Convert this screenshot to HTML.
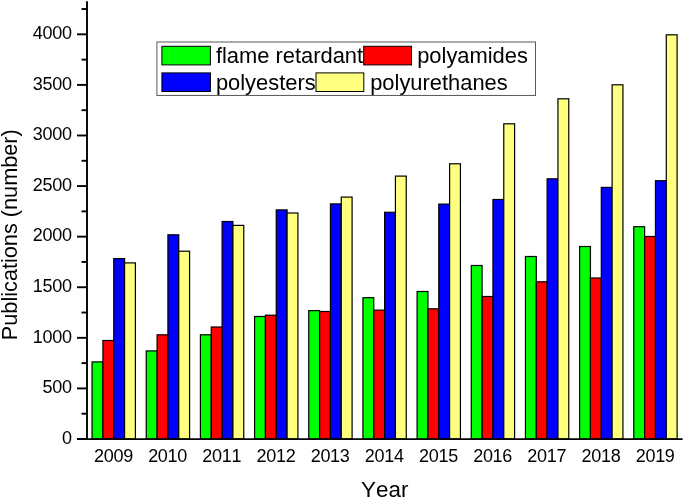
<!DOCTYPE html>
<html><head><meta charset="utf-8"><title>Publications per year</title>
<style>html,body{margin:0;padding:0;background:#fff}body{width:685px;height:499px;overflow:hidden}</style></head>
<body>
<svg width="685" height="499" viewBox="0 0 685 499" style="display:block">
<rect width="685" height="499" fill="#fff"/>
<g stroke="#000" stroke-width="1.2">
<rect x="92.08" y="361.90" width="10.83" height="77.10" fill="#00ff00"/>
<rect x="102.92" y="340.50" width="10.83" height="98.50" fill="#ff0000"/>
<rect x="113.75" y="258.60" width="10.83" height="180.40" fill="#0000ff"/>
<rect x="124.58" y="262.90" width="10.83" height="176.10" fill="#ffff80"/>
<rect x="146.25" y="350.90" width="10.83" height="88.10" fill="#00ff00"/>
<rect x="157.09" y="334.80" width="10.83" height="104.20" fill="#ff0000"/>
<rect x="167.92" y="234.80" width="10.83" height="204.20" fill="#0000ff"/>
<rect x="178.75" y="251.20" width="10.83" height="187.80" fill="#ffff80"/>
<rect x="200.42" y="334.80" width="10.83" height="104.20" fill="#00ff00"/>
<rect x="211.26" y="327.00" width="10.83" height="112.00" fill="#ff0000"/>
<rect x="222.09" y="221.50" width="10.83" height="217.50" fill="#0000ff"/>
<rect x="232.92" y="225.40" width="10.83" height="213.60" fill="#ffff80"/>
<rect x="254.59" y="316.50" width="10.83" height="122.50" fill="#00ff00"/>
<rect x="265.43" y="315.20" width="10.83" height="123.80" fill="#ff0000"/>
<rect x="276.26" y="209.90" width="10.83" height="229.10" fill="#0000ff"/>
<rect x="287.09" y="213.00" width="10.83" height="226.00" fill="#ffff80"/>
<rect x="308.76" y="310.60" width="10.83" height="128.40" fill="#00ff00"/>
<rect x="319.60" y="311.50" width="10.83" height="127.50" fill="#ff0000"/>
<rect x="330.43" y="203.90" width="10.83" height="235.10" fill="#0000ff"/>
<rect x="341.26" y="197.10" width="10.83" height="241.90" fill="#ffff80"/>
<rect x="362.93" y="297.70" width="10.83" height="141.30" fill="#00ff00"/>
<rect x="373.77" y="310.10" width="10.83" height="128.90" fill="#ff0000"/>
<rect x="384.60" y="212.30" width="10.83" height="226.70" fill="#0000ff"/>
<rect x="395.43" y="176.10" width="10.83" height="262.90" fill="#ffff80"/>
<rect x="417.10" y="291.50" width="10.83" height="147.50" fill="#00ff00"/>
<rect x="427.94" y="308.80" width="10.83" height="130.20" fill="#ff0000"/>
<rect x="438.77" y="204.10" width="10.83" height="234.90" fill="#0000ff"/>
<rect x="449.60" y="163.80" width="10.83" height="275.20" fill="#ffff80"/>
<rect x="471.27" y="265.50" width="10.83" height="173.50" fill="#00ff00"/>
<rect x="482.11" y="296.50" width="10.83" height="142.50" fill="#ff0000"/>
<rect x="492.94" y="199.50" width="10.83" height="239.50" fill="#0000ff"/>
<rect x="503.77" y="123.80" width="10.83" height="315.20" fill="#ffff80"/>
<rect x="525.44" y="256.50" width="10.83" height="182.50" fill="#00ff00"/>
<rect x="536.28" y="281.80" width="10.83" height="157.20" fill="#ff0000"/>
<rect x="547.11" y="178.80" width="10.83" height="260.20" fill="#0000ff"/>
<rect x="557.94" y="98.80" width="10.83" height="340.20" fill="#ffff80"/>
<rect x="579.61" y="246.50" width="10.83" height="192.50" fill="#00ff00"/>
<rect x="590.45" y="278.00" width="10.83" height="161.00" fill="#ff0000"/>
<rect x="601.28" y="187.40" width="10.83" height="251.60" fill="#0000ff"/>
<rect x="612.11" y="84.80" width="10.83" height="354.20" fill="#ffff80"/>
<rect x="633.78" y="226.70" width="10.83" height="212.30" fill="#00ff00"/>
<rect x="644.62" y="236.50" width="10.83" height="202.50" fill="#ff0000"/>
<rect x="655.45" y="180.70" width="10.83" height="258.30" fill="#0000ff"/>
<rect x="666.28" y="34.80" width="10.83" height="404.20" fill="#ffff80"/>
</g>
<g stroke="#000" stroke-width="1.9" fill="none">
<line x1="87" y1="1.2" x2="87" y2="440"/>
<line x1="77" y1="439.15" x2="682.6" y2="439.15"/>
<line x1="77" y1="439.00" x2="87" y2="439.00"/>
<line x1="81.5" y1="413.71" x2="87" y2="413.71"/>
<line x1="77" y1="388.42" x2="87" y2="388.42"/>
<line x1="81.5" y1="363.12" x2="87" y2="363.12"/>
<line x1="77" y1="337.83" x2="87" y2="337.83"/>
<line x1="81.5" y1="312.54" x2="87" y2="312.54"/>
<line x1="77" y1="287.25" x2="87" y2="287.25"/>
<line x1="81.5" y1="261.95" x2="87" y2="261.95"/>
<line x1="77" y1="236.66" x2="87" y2="236.66"/>
<line x1="81.5" y1="211.37" x2="87" y2="211.37"/>
<line x1="77" y1="186.08" x2="87" y2="186.08"/>
<line x1="81.5" y1="160.78" x2="87" y2="160.78"/>
<line x1="77" y1="135.49" x2="87" y2="135.49"/>
<line x1="81.5" y1="110.20" x2="87" y2="110.20"/>
<line x1="77" y1="84.91" x2="87" y2="84.91"/>
<line x1="81.5" y1="59.61" x2="87" y2="59.61"/>
<line x1="77" y1="34.32" x2="87" y2="34.32"/>
<line x1="81.5" y1="9.03" x2="87" y2="9.03"/>
</g>
<g font-family="Liberation Sans, Arial, sans-serif" font-size="18" style="font-kerning:none;letter-spacing:-0.28px" fill="#000">
<text x="71.8" y="443.80" text-anchor="end">0</text>
<text x="71.8" y="393.22" text-anchor="end">500</text>
<text x="71.8" y="342.63" text-anchor="end">1000</text>
<text x="71.8" y="292.05" text-anchor="end">1500</text>
<text x="71.8" y="241.46" text-anchor="end">2000</text>
<text x="71.8" y="190.88" text-anchor="end">2500</text>
<text x="71.8" y="140.29" text-anchor="end">3000</text>
<text x="71.8" y="89.71" text-anchor="end">3500</text>
<text x="71.8" y="39.12" text-anchor="end">4000</text>
<text x="113.45" y="462.2" text-anchor="middle">2009</text>
<text x="167.62" y="462.2" text-anchor="middle">2010</text>
<text x="221.79" y="462.2" text-anchor="middle">2011</text>
<text x="275.96" y="462.2" text-anchor="middle">2012</text>
<text x="330.13" y="462.2" text-anchor="middle">2013</text>
<text x="384.30" y="462.2" text-anchor="middle">2014</text>
<text x="438.47" y="462.2" text-anchor="middle">2015</text>
<text x="492.64" y="462.2" text-anchor="middle">2016</text>
<text x="546.81" y="462.2" text-anchor="middle">2017</text>
<text x="600.98" y="462.2" text-anchor="middle">2018</text>
<text x="655.15" y="462.2" text-anchor="middle">2019</text>
</g>
<g font-family="Liberation Sans, Arial, sans-serif" font-size="21.9" style="font-kerning:none" fill="#000">
<text x="384.7" y="497.2" text-anchor="middle" font-size="22.4">Year</text>
<text transform="translate(17.0,234.7) rotate(-90)" text-anchor="middle" font-size="21.7">Publications (number)</text>
<rect x="156.9" y="42.0" width="378.6" height="53.45" fill="#fff" stroke="#585858" stroke-width="1"/>
<rect x="161.9" y="46.3" width="48.5" height="18.6" fill="#00ff00" stroke="#000" stroke-width="1"/>
<rect x="161.9" y="72.9" width="48.5" height="18.6" fill="#0000ff" stroke="#000" stroke-width="1"/>
<rect x="363.7" y="46.3" width="47.8" height="18.6" fill="#ff0000" stroke="#000" stroke-width="1"/>
<rect x="316.0" y="72.9" width="47.8" height="18.6" fill="#ffff80" stroke="#000" stroke-width="1"/>
<text x="215.9" y="63.4">flame retardant</text>
<text x="417.2" y="63.4">polyamides</text>
<text x="215.9" y="89.7">polyesters</text>
<text x="370.2" y="89.7">polyurethanes</text>
</g>
</svg>
</body></html>
